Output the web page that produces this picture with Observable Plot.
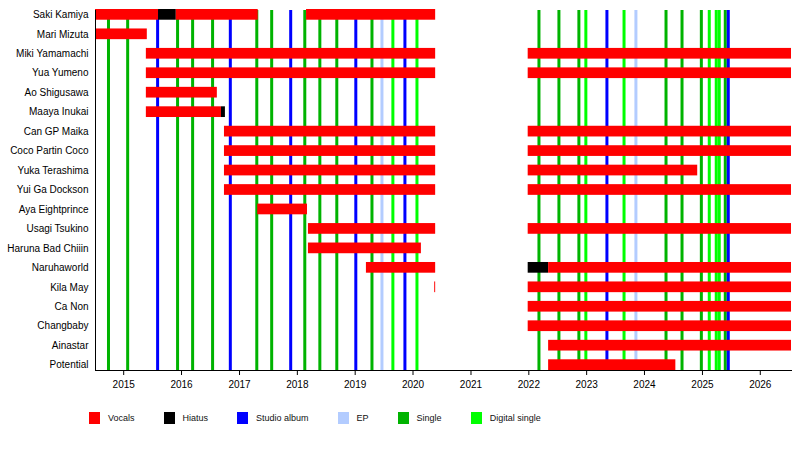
<!DOCTYPE html>
<html>
<head>
<meta charset="utf-8">
<script src="https://cdn.jsdelivr.net/npm/d3@7"></script>
<script src="https://cdn.jsdelivr.net/npm/@observablehq/plot@0.6"></script>
<style>
  body { margin: 0; background: #fff; font-family: "Liberation Sans", Arial, sans-serif; }
  #legend { display: flex; align-items: center; margin-left: 89px; margin-top: 11px; height: 13px; }
  .item { display: flex; align-items: center; margin-right: 29px; }
  .sw { width: 11px; height: 12px; margin-right: 8px; }
  .lab { font-size: 9px; color: #111; }
</style>
</head>
<body>
<div id="chart"></div>
<div id="legend"></div>
<script>
const members = ["Saki Kamiya", "Mari Mizuta", "Miki Yamamachi", "Yua Yumeno", "Ao Shigusawa",
  "Maaya Inukai", "Can GP Maika", "Coco Partin Coco", "Yuka Terashima", "Yui Ga Dockson",
  "Aya Eightprince", "Usagi Tsukino", "Haruna Bad Chiiin", "Naruhaworld", "Kila May",
  "Ca Non", "Changbaby", "Ainastar", "Potential"];

const legendTypes = ["Vocals", "Hiatus", "Studio album", "EP", "Single", "Digital single"];
const legendColors = ["#ff0000", "#000000", "#0000ff", "#b3ccff", "#00b300", "#00ff00"];

const timelineStart = "2014-07-07";
const timelineEnd = "2026-07-17";
const tickYears = [2015, 2016, 2017, 2018, 2019, 2020, 2021, 2022, 2023, 2024, 2025, 2026];

// [member, start, end, type]
const periods = [
  ["Saki Kamiya", "2014-07-07", "2015-08-09", "Vocals"],
  ["Saki Kamiya", "2015-08-09", "2015-11-29", "Hiatus"],
  ["Saki Kamiya", "2015-11-29", "2017-04-29", "Vocals"],
  ["Saki Kamiya", "2018-02-28", "2020-05-23", "Vocals"],
  ["Mari Mizuta", "2014-07-07", "2015-05-30", "Vocals"],
  ["Miki Yamamachi", "2015-05-24", "2020-05-23", "Vocals"],
  ["Miki Yamamachi", "2021-12-28", "2026-07-17", "Vocals"],
  ["Yua Yumeno", "2015-05-24", "2020-05-23", "Vocals"],
  ["Yua Yumeno", "2021-12-28", "2026-07-17", "Vocals"],
  ["Ao Shigusawa", "2015-05-24", "2016-08-14", "Vocals"],
  ["Maaya Inukai", "2015-05-24", "2016-09-09", "Vocals"],
  ["Maaya Inukai", "2016-09-09", "2016-10-04", "Hiatus"],
  ["Can GP Maika", "2016-09-28", "2020-05-23", "Vocals"],
  ["Can GP Maika", "2021-12-28", "2026-07-17", "Vocals"],
  ["Coco Partin Coco", "2016-09-28", "2020-05-23", "Vocals"],
  ["Coco Partin Coco", "2021-12-28", "2026-07-17", "Vocals"],
  ["Yuka Terashima", "2016-09-28", "2020-05-23", "Vocals"],
  ["Yuka Terashima", "2021-12-28", "2024-12-02", "Vocals"],
  ["Yui Ga Dockson", "2016-09-28", "2020-05-23", "Vocals"],
  ["Yui Ga Dockson", "2021-12-28", "2026-07-17", "Vocals"],
  ["Aya Eightprince", "2017-04-26", "2018-03-06", "Vocals"],
  ["Usagi Tsukino", "2018-03-12", "2020-05-23", "Vocals"],
  ["Usagi Tsukino", "2021-12-28", "2026-07-17", "Vocals"],
  ["Haruna Bad Chiiin", "2018-03-12", "2020-02-23", "Vocals"],
  ["Naruhaworld", "2019-03-13", "2020-05-23", "Vocals"],
  ["Naruhaworld", "2021-12-28", "2022-05-06", "Hiatus"],
  ["Naruhaworld", "2022-05-06", "2026-07-17", "Vocals"],
  ["Kila May", "2020-05-17", "2020-05-23", "Vocals"],
  ["Kila May", "2021-12-28", "2026-07-17", "Vocals"],
  ["Ca Non", "2021-12-28", "2026-07-17", "Vocals"],
  ["Changbaby", "2021-12-28", "2026-07-17", "Vocals"],
  ["Ainastar", "2022-05-06", "2026-07-17", "Vocals"],
  ["Potential", "2022-05-06", "2024-07-17", "Vocals"]
];

const releaseDates = [
  "2014-09-27", "2015-01-26", "2015-08-03", "2015-12-07", "2016-03-11", "2016-07-15",
  "2016-11-04", "2017-04-20", "2017-07-23", "2017-11-20", "2018-02-17", "2018-05-23",
  "2018-09-07", "2019-01-05", "2019-04-17", "2019-06-19", "2019-08-27", "2019-11-11",
  "2020-01-26", "2022-03-06", "2022-07-10", "2022-11-13", "2022-12-27", "2023-05-09",
  "2023-08-25", "2023-11-08", "2024-05-16", "2024-08-25", "2024-12-25", "2025-02-13",
  "2025-03-29", "2025-04-17", "2025-05-25", "2025-06-13"
];
const releaseTypes = [
  "Single", "Single", "Studio album", "Single", "Single", "Single",
  "Studio album", "Single", "Single", "Studio album", "Single", "Single",
  "Single", "Studio album", "Single", "EP", "Digital single", "Studio album",
  "Digital single", "Single", "Single", "Single", "Digital single", "Studio album",
  "Digital single", "EP", "Single", "Single", "Single", "Digital single",
  "Digital single", "Digital single", "Single", "Studio album"
];

const parse = d3.utcParse("%Y-%m-%d");
const bars = periods.map(([member, start, end, type]) => ({member, start: parse(start), end: parse(end), type}));
const releases = releaseDates.map((d, i) => ({date: parse(d), type: releaseTypes[i]}));
const ticks = tickYears.map(y => new Date(Date.UTC(y, 0, 1)));

const chart = Plot.plot({
  width: 800,
  height: 400,
  marginTop: 9,
  marginBottom: 30,
  marginLeft: 95,
  marginRight: 9,
  style: {fontFamily: "'Liberation Sans', Arial, sans-serif", fontSize: "10px", color: "#000", background: "#fff"},
  x: {type: "utc", domain: [parse(timelineStart), parse(timelineEnd)], ticks, tickFormat: d3.utcFormat("%Y"),
      tickSize: 5, tickPadding: 5, label: null},
  y: {domain: members, paddingInner: 0.45, paddingOuter: 0, round: false, tickSize: 0, tickPadding: 7, label: null},
  color: {domain: legendTypes, range: legendColors},
  marks: [
    Plot.ruleX(releases, {x: "date", stroke: "type", strokeWidth: 3, insetTop: 1}),
    Plot.barX(bars, {x1: "start", x2: "end", y: "member", fill: "type"}),
    Plot.ruleX([parse(timelineStart)], {stroke: "#000", strokeWidth: 1, insetTop: 1}),
    Plot.frame({anchor: "bottom", stroke: "#000"})
  ]
});
document.getElementById("chart").appendChild(chart);

const legend = document.getElementById("legend");
legendTypes.forEach((t, i) => {
  const item = document.createElement("div");
  item.className = "item";
  const sw = document.createElement("div");
  sw.className = "sw";
  sw.style.background = legendColors[i];
  const lab = document.createElement("span");
  lab.className = "lab";
  lab.textContent = t;
  item.appendChild(sw);
  item.appendChild(lab);
  legend.appendChild(item);
});
</script>
</body>
</html>
